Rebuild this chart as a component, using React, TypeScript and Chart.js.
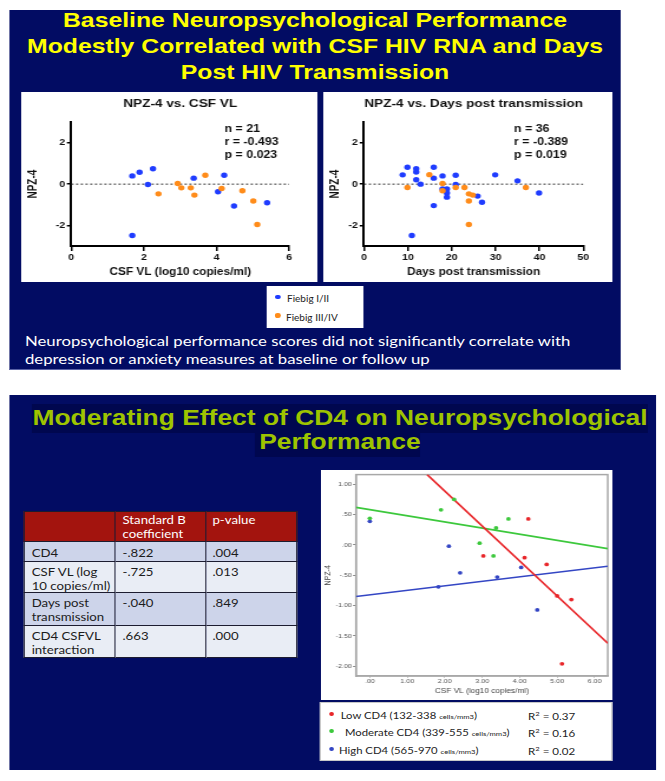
import React, { useEffect, useRef } from "react";
import { Chart, registerables } from "chart.js";

Chart.register(...registerables);

// ---------------- data ----------------
const npzTicks = [-2, 0, 2];
const zeroLineY = [0, 0];

// NPZ-4 vs CSF VL
const vlTicks = [0, 2, 4, 6];
const vlFiebig12X = [1.68, 1.88, 2.25, 2.11, 3.37, 4.21, 4.04, 4.48, 5.39, 1.68];
const vlFiebig12Y = [0.4, 0.58, 0.75, -0.02, 0.29, 0.43, -0.37, -1.06, -0.9, -2.49];
const vlFiebig34X = [2.4, 2.93, 3.03, 3.29, 3.39, 3.69, 4.14, 4.71, 5.01, 5.12];
const vlFiebig34Y = [-0.47, 0.03, -0.18, -0.18, -0.53, 0.43, -0.21, -0.32, -0.82, -1.96];
const vlStats = ["n = 21", "r = -0.493", "p = 0.023"];

// NPZ-4 vs Days post transmission
const daysTicks = [0, 10, 20, 30, 40, 50];
const daysFiebig12X = [8.8, 9.9, 11.9, 11.9, 11.9, 12.9, 15.9, 15.9, 15.9, 17.9, 17.9, 18.9, 18.9, 18.9, 20.9, 20.9, 25.9, 26.9, 29.9, 35.0, 39.9, 10.9];
const daysFiebig12Y = [0.45, 0.82, 0.75, 0.59, 0.21, 0.0, 0.82, 0.29, -1.04, 0.4, -0.23, -0.23, -0.43, -0.63, 0.43, -0.02, -0.58, -0.88, 0.45, 0.16, -0.43, -2.49];
const daysFiebig34X = [9.9, 14.9, 17.9, 17.9, 20.9, 22.9, 23.9, 24.8, 23.9, 23.9, 36.9];
const daysFiebig34Y = [-0.16, 0.46, 0.03, -0.32, -0.16, -0.16, -0.47, -0.53, -0.82, -1.96, -0.16];
const daysStats = ["n = 36", "r = -0.389", "p = 0.019"];

// CD4 moderation chart
const cd4XTicks = [0, 1, 2, 3, 4, 5, 6];
const cd4YTicks = [-2, -1.5, -1, -0.5, 0, 0.5, 1];
const lowX = [3.03, 4.13, 4.23, 4.72, 5.0, 5.38, 5.13];
const lowY = [-0.18, -0.21, 0.43, -0.32, -0.84, -0.9, -1.96];
const modX = [0, 1.9, 2.25, 2.93, 3.3, 3.37, 3.7];
const modY = [0.44, 0.58, 0.75, 0.03, -0.18, 0.28, 0.43];
const highX = [0, 1.83, 2.11, 2.41, 3.4, 4.04, 4.47];
const highY = [0.39, -0.69, -0.02, -0.46, -0.53, -0.37, -1.07];
const lowFitX = [1.53, 6.35];
const lowFitY = [1.16, -1.62];
const modFitX = [-0.37, 6.35];
const modFitY = [0.62, -0.06];
const highFitX = [-0.37, 6.35];
const highFitY = [-0.85, -0.35];

// table
const tableHeader = ["", "Standard B\ncoefficient", "p-value"];
const tableLabels = ["CD4", "CSF VL (log\n10 copies/ml)", "Days post\ntransmission", "CD4 CSFVL\ninteraction"];
const tableCoef = ["-.822", "-.725", "-.040", ".663"];
const tablePval = [".004", ".013", ".849", ".000"];

// legends
const fiebigLabels = ["Fiebig I/II", "Fiebig III/IV"];
const cd4Names = ["Low CD4 (132-338 ", "Moderate CD4 (339-555 ", "High CD4 (565-970 "];
const cd4R2 = ["0.37", "0.16", "0.02"];

// ---------------- style ----------------
const SX = 1.18;
const ux = (v: number) => v / SX;
const ARIAL = '"Liberation Sans", Arial, sans-serif';
const CAL = 'Lato, "Open Sans", sans-serif';
const NAVY = "#020c63";
const BLUE = "#1f3cff";
const ORANGE = "#ff8c1a";
const RED = "#e8262a";
const GREEN = "#3cc83c";
const DBLUE = "#3446c4";

const pts = (xs: number[], ys: number[]) => xs.map((x, i) => ({ x, y: ys[i] }));

const statsPlugin = {
  id: "statsText",
  afterDatasetsDraw(chart: any, _a: any, opts: any) {
    const ctx = chart.ctx;
    ctx.save();
    ctx.fillStyle = "#111";
    ctx.font = `bold 10.5px ${ARIAL}`;
    ctx.textBaseline = "middle";
    ctx.textAlign = "left";
    (opts.lines || []).forEach((t: string, i: number) => ctx.fillText(t, opts.x, opts.y + i * opts.gap));
    ctx.restore();
  },
};

const framePlugin = {
  id: "frame",
  beforeDatasetsDraw(chart: any) {
    const { ctx, chartArea } = chart;
    ctx.save();
    ctx.strokeStyle = "#a8a8a8";
    ctx.lineWidth = 1.5;
    ctx.strokeRect(chartArea.left, chartArea.top, chartArea.right - chartArea.left, chartArea.bottom - chartArea.top);
    ctx.restore();
  },
};

function topConfig(p: any) {
  const tickFont = { family: ARIAL, size: 9, weight: "bold" };
  const titleFont = { family: ARIAL, size: 10, weight: "bold" };
  return {
    type: "scatter",
    data: {
      datasets: [
        { data: pts([p.xTicks[0], p.xTicks[p.xTicks.length - 1]], zeroLineY), showLine: true, borderColor: "#333", borderWidth: 1, borderDash: [2, 2], pointRadius: 0, order: 3 },
        { data: p.blue, backgroundColor: BLUE, pointRadius: 2.7, borderWidth: 0, order: 2 },
        { data: p.orange, backgroundColor: ORANGE, pointRadius: 2.7, borderWidth: 0, order: 1 },
      ],
    },
    options: {
      animation: false,
      responsive: false,
      devicePixelRatio: 1,
      layout: { padding: { left: 0, right: p.padRight, top: 0, bottom: 0 } },
      plugins: {
        legend: { display: false },
        tooltip: { enabled: false },
        title: { display: true, text: p.title, color: "#111", font: { family: ARIAL, size: 11.5, weight: "bold" }, padding: { top: 5, bottom: 11.5 }, fullSize: false },
        statsText: { lines: p.stats, x: p.statsX, y: 37.3, gap: 12.9 },
      },
      scales: {
        x: {
          type: "linear",
          min: p.xTicks[0],
          max: p.xTicks[p.xTicks.length - 1],
          afterBuildTicks: (s: any) => { s.ticks = p.xTicks.map((v: number) => ({ value: v })); },
          ticks: { color: "#111", font: tickFont, padding: 1.5, maxRotation: 0, autoSkip: false },
          grid: { drawOnChartArea: false, drawTicks: true, tickLength: 5, color: "#000", lineWidth: 1.5 },
          border: { display: true, color: "#000", width: 2 },
          title: { display: true, text: p.xTitle, color: "#111", font: titleFont, padding: { top: 0, bottom: 3.3 } },
          afterFit: (s: any) => { s.height = 36; },
        },
        y: {
          type: "linear",
          min: -3,
          max: 3,
          afterBuildTicks: (s: any) => { s.ticks = npzTicks.map((v) => ({ value: v })); },
          ticks: { color: "#111", font: tickFont, padding: 1.5 },
          grid: { drawOnChartArea: false, drawTicks: true, tickLength: 3.7, color: "#000", lineWidth: 1.5 },
          border: { display: true, color: "#000", width: 2 },
          title: { display: true, text: "NPZ-4", color: "#111", font: titleFont, padding: { top: p.yTitlePad, bottom: 0 } },
          afterFit: (s: any) => { s.width = p.yWidth; },
        },
      },
    },
    plugins: [statsPlugin],
  };
}

const spssFmt = (v: any) => {
  const n = Number(v);
  const a = Math.abs(n).toFixed(2);
  return (n < 0 ? "-" : "") + (a.startsWith("0") ? a.slice(1) : a);
};

function cd4Config() {
  const fitLine = (xs: number[], ys: number[], c: string) => ({ data: pts(xs, ys), showLine: true, borderColor: c, borderWidth: 1.6, pointRadius: 0, order: 2 });
  const dots = (xs: number[], ys: number[], c: string) => ({ data: pts(xs, ys), backgroundColor: c, pointRadius: 1.9, borderWidth: 0, order: 1 });
  const small = { family: ARIAL, size: 6 };
  return {
    type: "scatter",
    data: {
      datasets: [
        fitLine(lowFitX, lowFitY, RED),
        fitLine(modFitX, modFitY, GREEN),
        fitLine(highFitX, highFitY, DBLUE),
        dots(lowX, lowY, RED),
        dots(modX, modY, GREEN),
        dots(highX, highY, DBLUE),
      ],
    },
    options: {
      animation: false,
      responsive: false,
      devicePixelRatio: 1,
      layout: { padding: { left: 0, right: 247 - ux(287), top: 2.5, bottom: 0 } },
      plugins: { legend: { display: false }, tooltip: { enabled: false }, title: { display: false } },
      scales: {
        x: {
          type: "linear",
          min: -0.37,
          max: 6.35,
          afterBuildTicks: (s: any) => { s.ticks = cd4XTicks.map((v) => ({ value: v })); },
          ticks: { color: "#555", font: small, padding: 0.5, maxRotation: 0, autoSkip: false, callback: spssFmt },
          grid: { drawOnChartArea: false, drawTicks: true, tickLength: 1.5, color: "#999", lineWidth: 1 },
          border: { display: true, color: "#a8a8a8", width: 1.5 },
          title: { display: true, text: "CSF VL (log10 copies/ml)", color: "#444", font: { family: ARIAL, size: 7 }, padding: { top: 0, bottom: 5 } },
          afterFit: (s: any) => { s.height = 24; },
        },
        y: {
          type: "linear",
          min: -2.16,
          max: 1.16,
          afterBuildTicks: (s: any) => { s.ticks = cd4YTicks.map((v) => ({ value: v })); },
          ticks: { color: "#555", font: small, padding: 1, autoSkip: false, callback: spssFmt },
          grid: { drawOnChartArea: false, drawTicks: true, tickLength: 2.5, color: "#888", lineWidth: 1 },
          border: { display: true, color: "#a8a8a8", width: 1.5 },
          title: { display: true, text: "NPZ-4", color: "#444", font: { family: ARIAL, size: 7 }, padding: { top: 1.7, bottom: 0 } },
          afterFit: (s: any) => { s.width = ux(35); },
        },
      },
    },
    plugins: [framePlugin],
  };
}

function ChartCanvas({ config, w, h }: any) {
  const ref = useRef<HTMLCanvasElement | null>(null);
  useEffect(() => {
    if (!ref.current) return;
    const c = new Chart(ref.current, config);
    return () => c.destroy();
  }, []);
  return <canvas ref={ref} width={w} height={h} style={{ display: "block", width: w, height: h }} />;
}

const box = (l: number, t: number, w: number, h: number, extra: any = {}) => ({
  position: "absolute" as const,
  left: ux(l),
  top: t,
  width: ux(w),
  height: h,
  ...extra,
});

function Txt({ x, cy, size, lh, color, weight, family, children, w, align }: any) {
  return (
    <div
      style={{
        position: "absolute",
        left: ux(x),
        top: cy - lh / 2,
        width: w !== undefined ? ux(w) : undefined,
        textAlign: align || "left",
        lineHeight: `${lh}px`,
        fontSize: size,
        color,
        fontWeight: weight || "normal",
        fontFamily: family,
        whiteSpace: "nowrap",
      }}
    >
      {children}
    </div>
  );
}

function Table() {
  const colX = [24, 116, 206, 297];
  const rowY = [511, 542, 562, 593, 626, 658];
  const padTop = [1.25, 4.25, 3, 3, 3];
  const cells: any[] = [];
  for (let r = 0; r < 5; r++) {
    for (let c = 0; c < 3; c++) {
      const text = r === 0 ? tableHeader[c] : [tableLabels, tableCoef, tablePval][c][r - 1];
      const bg = r === 0 ? "#a3140e" : r % 2 === 1 ? "#cdd4ea" : "#e9edf5";
      cells.push(
        <div
          key={`${r}-${c}`}
          style={{
            position: "absolute",
            left: ux(colX[c]),
            top: rowY[r],
            width: ux(colX[c + 1] - colX[c]),
            height: rowY[r + 1] - rowY[r],
            background: bg,
            boxSizing: "border-box",
            borderRight: "1px solid #1c1c30",
            borderBottom: "1px solid #1c1c30",
            borderLeft: c === 0 ? "1px solid #1c1c30" : undefined,
            borderTop: r === 0 ? "1px solid #1c1c30" : undefined,
            paddingLeft: ux(6.5),
            paddingTop: padTop[r],
            fontFamily: CAL,
            fontSize: 11.2,
            lineHeight: "13.5px",
            color: r === 0 ? "#fff" : "#1c1c1c",
            whiteSpace: "pre-line",
          }}
        >
          {text}
        </div>
      );
    }
  }
  return <>{cells}</>;
}

export default function App() {
  const left = topConfig({
    title: "NPZ-4 vs. CSF VL",
    xTitle: "CSF VL (log10 copies/ml)",
    xTicks: vlTicks,
    blue: pts(vlFiebig12X, vlFiebig12Y),
    orange: pts(vlFiebig34X, vlFiebig34Y),
    stats: vlStats,
    yWidth: ux(50),
    padRight: 251 - ux(268),
    yTitlePad: ux(12) - 6,
    statsX: ux(203.3),
  });
  const right = topConfig({
    title: "NPZ-4 vs. Days post transmission",
    xTitle: "Days post transmission",
    xTicks: daysTicks,
    blue: pts(daysFiebig12X, daysFiebig12Y),
    orange: pts(daysFiebig34X, daysFiebig34Y),
    stats: daysStats,
    yWidth: ux(40.7),
    padRight: 246 - ux(260),
    yTitlePad: ux(11.7) - 6,
    statsX: ux(190.7),
  });
  const titleTop = ["Baseline Neuropsychological Performance", "Modestly Correlated with CSF HIV RNA and Days", "Post HIV Transmission"];
  const titleBottom = ["Moderating Effect of CD4 on Neuropsychological", "Performance"];
  const cd4Colors = [RED, GREEN, DBLUE];
  const cd4TextX = [340.7, 345, 339];
  const cd4Y = [716, 733, 751];

  return (
    <div
      style={{
        position: "absolute",
        left: 0,
        top: 0,
        width: ux(665),
        height: 781,
        transform: `scaleX(${SX})`,
        transformOrigin: "0 0",
        background: "#fff",
        overflow: "hidden",
      }}
    >
      {/* top slide */}
      <div style={box(9, 10, 612, 360, { background: NAVY })} />
      <div style={box(9, 369, 612, 1, { background: "#5a62a6" })} />
      {titleTop.map((t, i) => (
        <Txt key={t} x={9} w={612} align="center" cy={20 + i * 26} size={21} lh={26} color="#ffff00" weight="bold" family={ARIAL}>
          {t}
        </Txt>
      ))}
      <div style={box(21, 92, 296, 190, { background: "#fff" })}>
        <ChartCanvas config={left} w={251} h={190} />
      </div>
      <div style={box(323, 92, 290, 190, { background: "#fff" })}>
        <ChartCanvas config={right} w={246} h={190} />
      </div>
      <div style={box(267, 286, 96, 42, { background: "#fff" })} />
      {fiebigLabels.map((t, i) => (
        <React.Fragment key={t}>
          <div style={box(278 - 2.6, 297 + i * 18.5 - 2.3, 5.2, 4.6, { background: i === 0 ? BLUE : ORANGE, borderRadius: "50%" })} />
          <Txt x={287 - i} cy={299 + i * 18.7} size={8.5} lh={12} color="#222" family={CAL}>
            {t}
          </Txt>
        </React.Fragment>
      ))}
      <Txt x={25} cy={341} size={14.2} lh={18} color="#fff" family={CAL}>
        Neuropsychological performance scores did not significantly correlate with
      </Txt>
      <Txt x={25} cy={359} size={14.2} lh={18} color="#fff" family={CAL}>
        depression or anxiety measures at baseline or follow up
      </Txt>

      {/* bottom slide */}
      <div style={box(9, 395, 647, 375, { background: NAVY })} />
      <div style={box(32, 404, 616, 29, { background: "#00074f" })} />
      <div style={box(255, 433, 165, 24, { background: "#00074f" })} />
      {titleBottom.map((t, i) => (
        <Txt key={t} x={32} w={616} align="center" cy={418 + i * 24} size={22.4} lh={24} color="#9ec400" weight="bold" family={ARIAL}>
          {t}
        </Txt>
      ))}
      <Table />
      <div style={box(321, 470, 291, 230, { background: "#fff" })}>
        <ChartCanvas config={cd4Config()} w={247} h={230} />
      </div>
      <div style={box(320, 702, 293, 59, { background: "#fff", boxSizing: "border-box", border: "1px solid #c8c8c8" })} />
      {cd4Names.map((t, i) => (
        <React.Fragment key={t}>
          <div style={box(331.7 - 2.3, cd4Y[i] - 2 - 2.1, 4.6, 4.2, { background: cd4Colors[i], borderRadius: "50%" })} />
          <Txt x={cd4TextX[i]} cy={cd4Y[i]} size={9.6} lh={14} color="#222" family={CAL}>
            {t}
            <span style={{ fontSize: 6.5 }}>cells/mm3</span>)
          </Txt>
          <Txt x={528} cy={cd4Y[i]} size={9.8} lh={14} color="#222" family={CAL}>
            R<sup style={{ fontSize: 6.5, lineHeight: 0 }}>2</sup> = {cd4R2[i]}
          </Txt>
        </React.Fragment>
      ))}
    </div>
  );
}
